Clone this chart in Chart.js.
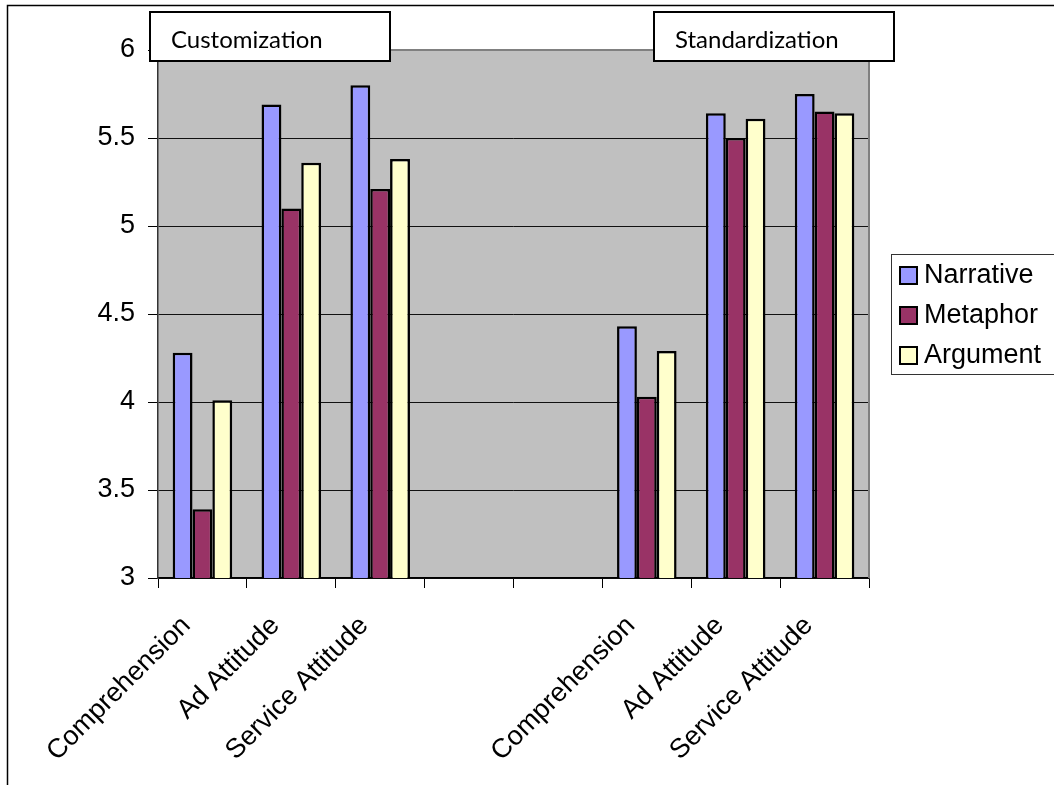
<!DOCTYPE html>
<html>
<head>
<meta charset="utf-8">
<title>Customization vs Standardization</title>
<script src="https://cdn.jsdelivr.net/npm/chart.js@4.4.1/dist/chart.umd.min.js"></script>
<style>
  html, body { margin: 0; padding: 0; background: #fff; }
  #wrap { width: 1054px; height: 785px; position: relative; }
</style>
</head>
<body>
<div id="wrap"><canvas id="chart" width="1054" height="785"></canvas></div>
<script>
// categories (two empty slots separate the two groups)
const categories = ['Comprehension', 'Ad Attitude', 'Service Attitude', '', '', 'Comprehension', 'Ad Attitude', 'Service Attitude'];
const groupTitles = ['Customization', 'Standardization'];

// series values
const narrative = [4.28, 5.69, 5.80, null, null, 4.43, 5.64, 5.75];
const metaphor  = [3.39, 5.10, 5.21, null, null, 4.03, 5.50, 5.65];
const argument  = [4.01, 5.36, 5.38, null, null, 4.29, 5.61, 5.64];

const seriesNames  = ['Narrative', 'Metaphor', 'Argument'];
const seriesColors = ['#9999FF', '#993366', '#FFFFCC'];

const yMin = 3, yMax = 6, yStep = 0.5;

const FONT = '"Liberation Sans", Arial, sans-serif';
const TITLE_FONT = 'Lato, "Open Sans", sans-serif';

// grey plot area, outer frame, title boxes and the boxed legend
const decor = {
  id: 'decor',
  beforeDraw(chart) {
    const { ctx, chartArea: a } = chart;
    ctx.save();
    ctx.fillStyle = '#fff';
    ctx.fillRect(0, 0, chart.width, chart.height);
    ctx.fillStyle = '#C0C0C0';
    ctx.fillRect(a.left, a.top, a.right - a.left, a.bottom - a.top);
    ctx.restore();
  },
  afterDraw(chart) {
    const { ctx, chartArea: a } = chart;
    ctx.save();

    // plot border top/right
    ctx.strokeStyle = '#808080';
    ctx.lineWidth = 2;
    ctx.beginPath();
    ctx.moveTo(a.left, a.top);
    ctx.lineTo(a.right, a.top);
    ctx.lineTo(a.right, a.bottom);
    ctx.stroke();

    // outer frame
    ctx.strokeStyle = '#000';
    ctx.lineWidth = 1.5;
    ctx.beginPath();
    ctx.moveTo(7.5, chart.height + 5);
    ctx.lineTo(7.5, 5.5);
    ctx.lineTo(chart.width + 5, 5.5);
    ctx.stroke();

    // title boxes
    const boxes = [
      { x: 150, w: 240, tx: 171, tw: 153 },
      { x: 654, w: 240, tx: 675, tw: 168 }
    ];
    ctx.textBaseline = 'alphabetic';
    ctx.textAlign = 'left';
    groupTitles.forEach((t, i) => {
      const b = boxes[i];
      ctx.fillStyle = '#fff';
      ctx.fillRect(b.x, 12, b.w, 49);
      ctx.strokeStyle = '#000';
      ctx.lineWidth = 2;
      ctx.strokeRect(b.x, 12, b.w, 49);
      // size the title so it spans the same width as in the source
      ctx.font = '20px ' + TITLE_FONT;
      const size = Math.min(24, 20 * b.tw / ctx.measureText(t).width);
      ctx.font = size.toFixed(1) + 'px ' + TITLE_FONT;
      ctx.fillStyle = '#000';
      ctx.fillText(t, b.tx, 48);
    });

    // legend
    const lx = 891, ly = 254, lw = 200, lh = 120;
    ctx.fillStyle = '#fff';
    ctx.fillRect(lx, ly, lw, lh);
    ctx.strokeStyle = '#333';
    ctx.lineWidth = 1;
    ctx.strokeRect(lx + 0.5, ly + 0.5, lw, lh);
    ctx.font = '27px ' + FONT;
    ctx.textBaseline = 'middle';
    chart.data.datasets.forEach((ds, i) => {
      const cy = 275 + i * 40;
      ctx.fillStyle = ds.backgroundColor;
      ctx.fillRect(900, cy - 8, 17, 17);
      ctx.strokeStyle = '#000';
      ctx.lineWidth = 2;
      ctx.strokeRect(900, cy - 8, 17, 17);
      ctx.fillStyle = '#000';
      ctx.fillText(ds.label, 924, cy + 1);
    });
    ctx.restore();
  }
};

const seriesData = [narrative, metaphor, argument];

new Chart(document.getElementById('chart'), {
  type: 'bar',
  data: {
    labels: categories,
    datasets: seriesNames.map((name, i) => ({
      label: name,
      data: seriesData[i],
      backgroundColor: seriesColors[i],
      borderColor: '#000',
      borderWidth: 2.5,
      categoryPercentage: 0.67,
      barPercentage: 1.0
    }))
  },
  options: {
    responsive: false,
    animation: false,
    devicePixelRatio: 1,
    layout: { padding: { top: 50, right: 185, left: 0, bottom: 0 } },
    plugins: {
      legend: { display: false },
      tooltip: { enabled: false },
      title: { display: false }
    },
    scales: {
      x: {
        afterFit: s => { s.height = 207; },
        grid: {
          drawOnChartArea: false,
          drawTicks: true,
          tickLength: 10,
          tickColor: '#000',
          offset: true
        },
        border: { color: '#000', width: 1.5 },
        ticks: {
          color: '#000',
          font: { family: FONT, size: 27 },
          minRotation: 45,
          maxRotation: 45,
          autoSkip: false,
          padding: 22,
          labelOffset: -16
        }
      },
      y: {
        min: yMin,
        max: yMax,
        afterFit: s => { s.width = 158; },
        grid: {
          color: '#111',
          lineWidth: 1,
          drawTicks: true,
          tickLength: 10,
          tickColor: '#000'
        },
        border: { color: '#333', width: 1.5 },
        ticks: {
          stepSize: yStep,
          color: '#000',
          font: { family: FONT, size: 27 },
          padding: 13,
          callback: v => String(+v.toFixed(1))
        }
      }
    }
  },
  plugins: [decor]
});
</script>
</body>
</html>
